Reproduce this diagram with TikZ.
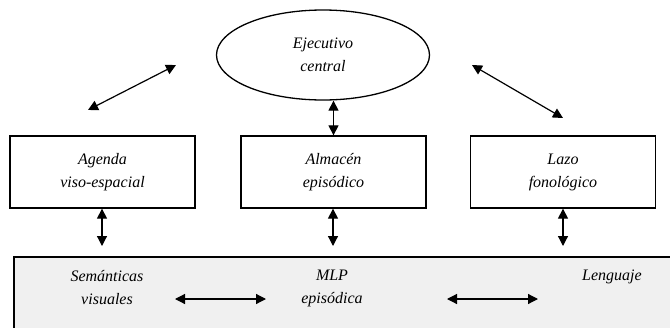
\documentclass[tikz,border=0pt]{standalone}
\usepackage{fontspec}
\setmainfont{Liberation Serif}
\usetikzlibrary{arrows.meta,shapes.geometric}
\begin{document}
\begin{tikzpicture}[x=1pt,y=-1pt,
  lbl/.style={font=\fontsize{16}{23}\selectfont\itshape, align=center},
  boxst/.style={draw, line width=1.3pt, minimum width=185pt, minimum height=72pt, lbl},
  dbl/.style={{Triangle[length=10pt,width=10pt]}-{Triangle[length=10pt,width=10pt]}, line width=1.2pt}]
\useasboundingbox (0,0) rectangle (670,327);
\draw[line width=1.3pt, fill=black!6] (14,257) rectangle (690,340);
\node[draw, ellipse, line width=1.3pt, minimum width=213pt, minimum height=90pt, lbl] (ec) at (323,55) {Ejecutivo\\central};
\node[boxst] (ag) at (102.5,172) {Agenda\\viso-espacial};
\node[boxst] (al) at (333.5,172) {Almacén\\episódico};
\node[boxst] (lz) at (563,172) {Lazo\\fonológico};
\coordinate (l1) at (88,110);
\coordinate (l2) at (176,65);
\coordinate (r1) at (472,65);
\coordinate (r2) at (563,118);
\draw[dbl] (l1) -- (l2);
\draw[dbl] (r1) -- (r2);
\draw[dbl] (ec.south -| al.north) -- (al.north);
\coordinate (m1) at (102,246);
\coordinate (m2) at (333,246);
\coordinate (m3) at (563,246);
\draw[dbl] (ag.south -| m1) -- (m1);
\draw[dbl] (al.south -| m2) -- (m2);
\draw[dbl] (lz.south -| m3) -- (m3);
\node[lbl] (sv) at (107,288) {Semánticas\\visuales};
\node[lbl] (mlp) at (332,288) {MLP\\episódica};
\node[lbl] (len) at (612,277) {Lenguaje};
\coordinate (a1) at (175,299);
\coordinate (a2) at (266,299);
\coordinate (b1) at (447,299);
\coordinate (b2) at (538,299);
\draw[dbl] (a1) -- (a2);
\draw[dbl] (b1) -- (b2);
\end{tikzpicture}
\end{document}
